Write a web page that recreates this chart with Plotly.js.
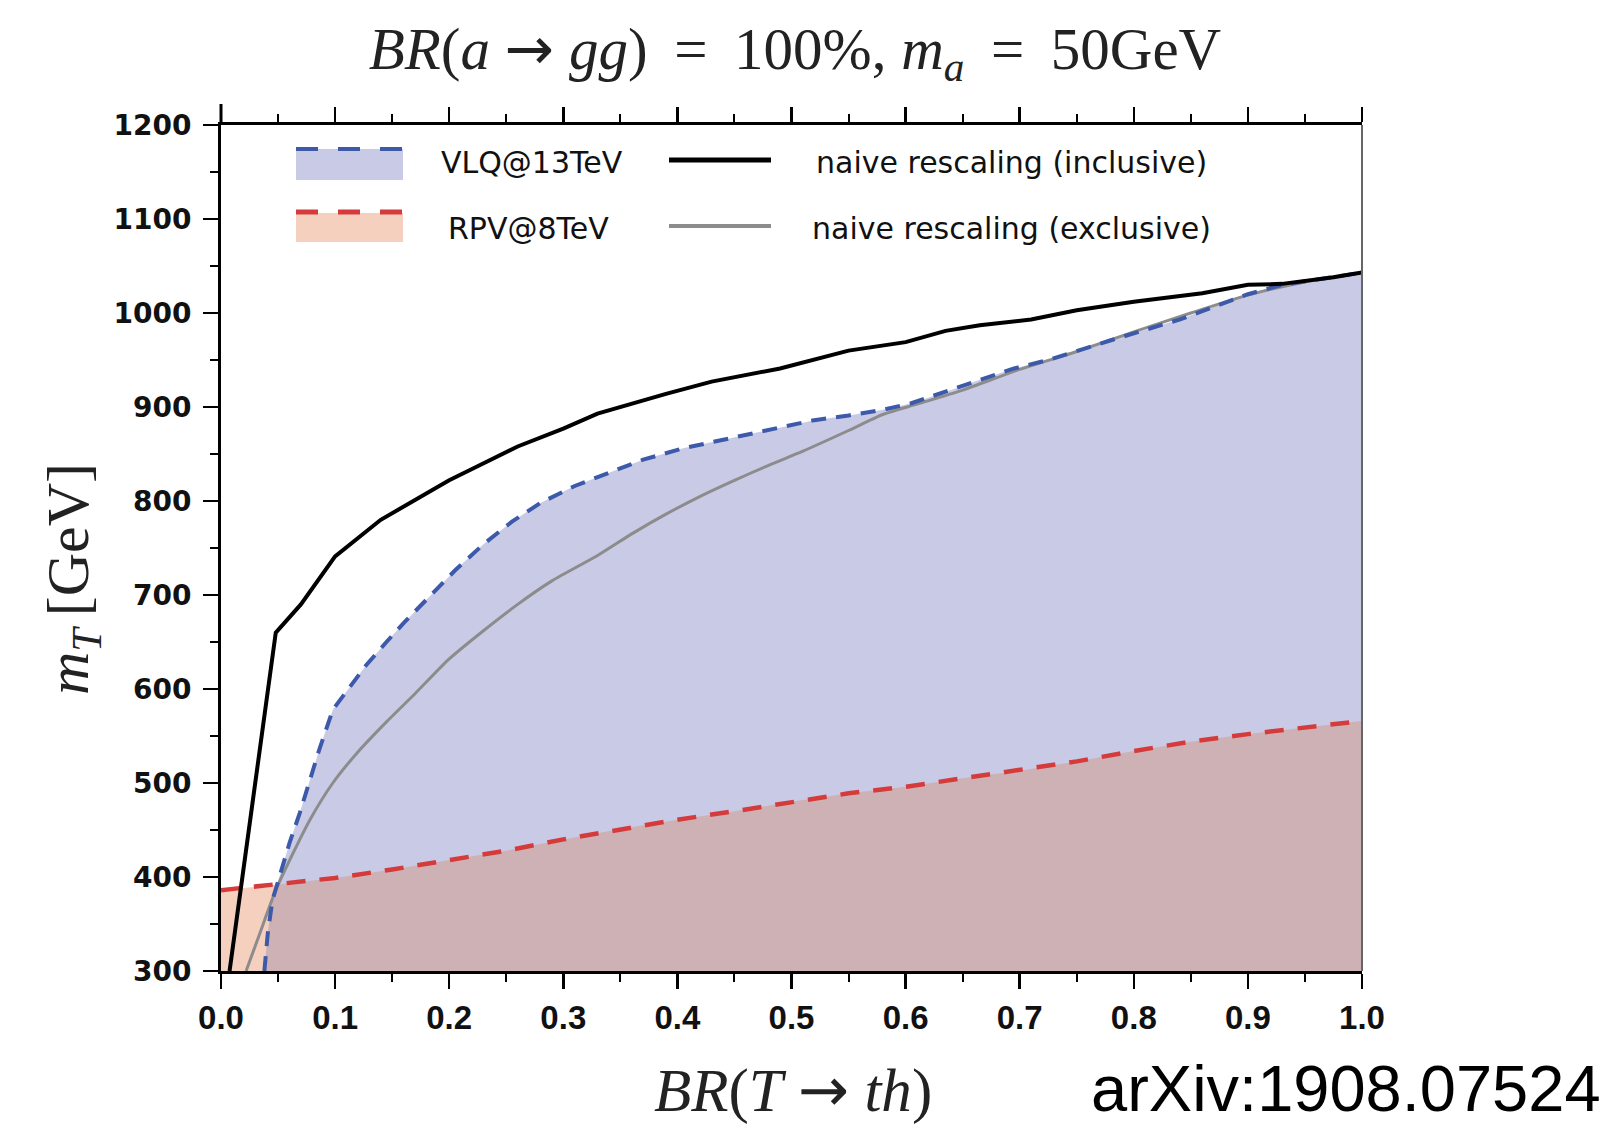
<!DOCTYPE html>
<html>
<head>
<meta charset="utf-8">
<script src="https://cdn.plot.ly/plotly-3.0.1.min.js"></script>
<style>html,body{margin:0;padding:0;background:#fff;}#chart{width:1608px;height:1127px;}</style>
</head>
<body>
<div id="chart"></div>
<script>
// ---- data ----
// VLQ@13TeV exclusion boundary (blue dashed)
const vlqX = [0.038, 0.041, 0.045, 0.051, 0.06, 0.069, 0.078, 0.086, 0.098, 0.113, 0.127, 0.145, 0.16, 0.18, 0.205, 0.23, 0.255, 0.28, 0.31, 0.34, 0.37, 0.405, 0.44, 0.48, 0.52, 0.55, 0.58, 0.605, 0.635, 0.665, 0.695, 0.725, 0.75, 0.78, 0.81, 0.84, 0.86, 0.9, 0.93, 0.97, 1.0];
const vlqY = [300, 340, 375, 400, 436, 468, 503, 535, 578, 602, 625, 650, 670, 695, 726, 754, 778, 798, 816, 830, 844, 856, 865, 876, 886, 891, 897, 904, 916, 929, 941, 950, 960, 971, 982, 993, 1002, 1020, 1030, 1038, 1043];
// RPV@8TeV exclusion boundary (red dashed)
const rpvX = [0, 0.05, 0.1, 0.15, 0.2, 0.25, 0.3, 0.35, 0.4, 0.45, 0.5, 0.55, 0.6, 0.65, 0.7, 0.75, 0.8, 0.85, 0.9, 0.95, 1.0];
const rpvY = [386, 392, 399, 408, 418, 428, 440, 451, 461, 470, 480, 489, 496, 505, 513, 523, 534, 544, 552, 559, 566];
// naive rescaling (inclusive), black
const incX = [0.0075, 0.048, 0.07, 0.1, 0.14, 0.175, 0.2, 0.22, 0.26, 0.3, 0.33, 0.39, 0.43, 0.49, 0.55, 0.6, 0.635, 0.665, 0.71, 0.75, 0.8, 0.86, 0.9, 0.93, 0.975, 1.0];
const incY = [300, 660, 690, 741, 780, 805, 822, 834, 858, 877, 893, 914, 927, 941, 960, 969, 981, 987, 993, 1003, 1012, 1021, 1030, 1031, 1038, 1043];
// naive rescaling (exclusive), gray
const excX = [0.022, 0.034, 0.048, 0.063, 0.078, 0.098, 0.12, 0.145, 0.17, 0.2, 0.23, 0.26, 0.29, 0.33, 0.36, 0.39, 0.42, 0.45, 0.48, 0.51, 0.55, 0.58, 0.61, 0.65, 0.7, 0.75, 0.8, 0.85, 0.9, 0.95, 1.0];
const excY = [300, 340, 386, 425, 461, 500, 533, 565, 595, 632, 662, 690, 715, 742, 765, 786, 805, 822, 838, 853, 875, 892, 903, 918, 940, 959, 980, 1000, 1019, 1033, 1043];
const xTickVals = [0, 0.1, 0.2, 0.3, 0.4, 0.5, 0.6, 0.7, 0.8, 0.9, 1.0];
const yTickVals = [300, 400, 500, 600, 700, 800, 900, 1000, 1100, 1200];
const legendLabels = ["VLQ@13TeV", "RPV@8TeV", "naive rescaling (inclusive)", "naive rescaling (exclusive)"];
const crossX = 0.05; // where the RPV line meets the VLQ curve

// ---- styles ----
const C = {lav:'#c9cbe6', peach:'#f5d0bf', mauve:'#cdb1b5', blue:'#3d59aa', red:'#d63b3b', gray:'#8c8c8c', black:'#000'};

// overlap region (RPV area inside VLQ area)
const ovX = [], ovY = [];
vlqX.forEach((x,i)=>{ if (x < crossX) { ovX.push(x); ovY.push(vlqY[i]); } });
rpvX.forEach((x,i)=>{ if (x >= crossX) { ovX.push(x); ovY.push(rpvY[i]); } });

const traces = [
  {x: rpvX, y: rpvY, type:'scatter', mode:'lines', fill:'tozeroy', fillcolor:C.peach, line:{width:0, color:C.peach}, hoverinfo:'skip'},
  {x: vlqX, y: vlqY, type:'scatter', mode:'lines', fill:'tozeroy', fillcolor:C.lav, line:{width:0, color:C.lav}, hoverinfo:'skip'},
  {x: ovX, y: ovY, type:'scatter', mode:'lines', fill:'tozeroy', fillcolor:C.mauve, line:{width:0, color:C.mauve}, hoverinfo:'skip'},
  {x: rpvX, y: rpvY, type:'scatter', mode:'lines', name:legendLabels[1], line:{color:C.red, width:4.5, dash:'19px,14px'}},
  {x: excX, y: excY, type:'scatter', mode:'lines', name:legendLabels[3], line:{color:C.gray, width:3, shape:'spline', smoothing:0.6}},
  {x: vlqX, y: vlqY, type:'scatter', mode:'lines', name:legendLabels[0], line:{color:C.blue, width:4, dash:'15px,10px'}},
  {x: incX, y: incY, type:'scatter', mode:'lines', name:legendLabels[2], line:{color:C.black, width:4}}
];

// pixel -> paper helpers for decorations
const L = 221, R = 1362, T = 125, B = 971;
const px = v => (v - L) / (R - L);
const py = v => (B - v) / (B - T);

const legFont = {family:'DejaVu Sans, sans-serif', size:30, color:'#111'};
const serif = 'Liberation Serif, DejaVu Serif, serif';
const arrow = '<span style="font-family:DejaVu Sans">→</span>';
const sp = '&#8201;';

const shapes = [
  {type:'line', xref:'paper', yref:'paper', x0:1, x1:1, y0:0, y1:1, line:{color:'#666', width:2}},
  {type:'line', xref:'paper', yref:'paper', x0:0, x1:0, y0:1, y1:py(104), line:{color:'#000', width:3}},
  // legend swatches
  {type:'rect', xref:'paper', yref:'paper', x0:px(296), x1:px(403), y0:py(180), y1:py(149), fillcolor:C.lav, line:{width:0}},
  {type:'line', xref:'paper', yref:'paper', x0:px(296), x1:px(403), y0:py(149), y1:py(149), line:{color:C.blue, width:4, dash:'22px,20px'}},
  {type:'rect', xref:'paper', yref:'paper', x0:px(296), x1:px(403), y0:py(242), y1:py(213), fillcolor:C.peach, line:{width:0}},
  {type:'line', xref:'paper', yref:'paper', x0:px(296), x1:px(403), y0:py(212), y1:py(212), line:{color:C.red, width:5, dash:'22px,20px'}},
  {type:'line', xref:'paper', yref:'paper', x0:px(669), x1:px(771), y0:py(160), y1:py(160), line:{color:C.black, width:5}},
  {type:'line', xref:'paper', yref:'paper', x0:px(669), x1:px(771), y0:py(226), y1:py(226), line:{color:C.gray, width:4}}
];

const annotations = [
  {text:legendLabels[0], xref:'paper', yref:'paper', x:px(439), y:py(162), xanchor:'left', yanchor:'middle', showarrow:false, font:legFont},
  {text:legendLabels[2], xref:'paper', yref:'paper', x:px(814), y:py(162), xanchor:'left', yanchor:'middle', showarrow:false, font:legFont},
  {text:legendLabels[1], xref:'paper', yref:'paper', x:px(446), y:py(229), xanchor:'left', yanchor:'middle', showarrow:false, font:legFont},
  {text:legendLabels[3], xref:'paper', yref:'paper', x:px(810), y:py(229), xanchor:'left', yanchor:'middle', showarrow:false, font:legFont},
  {text:'<i>m</i><sub><i>T</i></sub>' + sp + '[GeV]', xref:'paper', yref:'paper', x:px(72), y:py(579), textangle:-90, xanchor:'center', yanchor:'middle', showarrow:false, font:{family:serif, size:60, color:'#222'}},
  {text:'<i>BR</i>(<i>T</i> ' + arrow + ' <i>th</i>)', xref:'paper', yref:'paper', x:px(793), y:py(1089), xanchor:'center', yanchor:'middle', showarrow:false, font:{family:serif, size:61, color:'#222'}},
  {text:'arXiv:1908.07524', xref:'paper', yref:'paper', x:px(1603), y:py(1127), xanchor:'right', yanchor:'bottom', showarrow:false, font:{family:'Liberation Sans, Arial, sans-serif', size:65, color:'#000'}}
];

const layout = {
  width:1608, height:1127,
  margin:{l:L, r:1608-R, t:T, b:1127-B, pad:0},
  paper_bgcolor:'#fff', plot_bgcolor:'#fff',
  showlegend:false,
  title:{text:'<i>BR</i>(<i>a</i> ' + arrow + ' <i>gg</i>) ' + sp + '= ' + sp + '100%, <i>m<sub>a</sub></i> ' + sp + '= ' + sp + '50GeV', x:795/1608, xanchor:'center', y:1-48/1127, yanchor:'middle', xref:'container', yref:'container', font:{family:serif, size:59, color:'#222'}},
  xaxis:{range:[0,1], tickvals:xTickVals, tickformat:'.1f', ticks:'outside', ticklen:15, tickwidth:2.5, tickcolor:'#000',
    showline:true, linewidth:3, linecolor:'#000', mirror:'ticks', showgrid:false, zeroline:false,
    minor:{ticks:'outside', dtick:0.05, ticklen:8, tickwidth:2, tickcolor:'#000', showgrid:false},
    tickfont:{family:'Liberation Sans, Arial, sans-serif', size:33, color:'#111', weight:'bold'}, ticklabelstandoff:0},
  yaxis:{range:[300,1200], tickvals:yTickVals, ticks:'outside', ticklen:15, tickwidth:2.5, tickcolor:'#000',
    showline:true, linewidth:3, linecolor:'#000', mirror:false, showgrid:false, zeroline:false,
    minor:{ticks:'outside', dtick:50, ticklen:8, tickwidth:2, tickcolor:'#000', showgrid:false},
    tickfont:{family:'DejaVu Sans, sans-serif', size:28, color:'#111', weight:'bold'}, ticklabelstandoff:6},
  shapes:shapes,
  annotations:annotations
};

Plotly.newPlot('chart', traces, layout, {staticPlot:true, displayModeBar:false});
</script>
</body>
</html>
